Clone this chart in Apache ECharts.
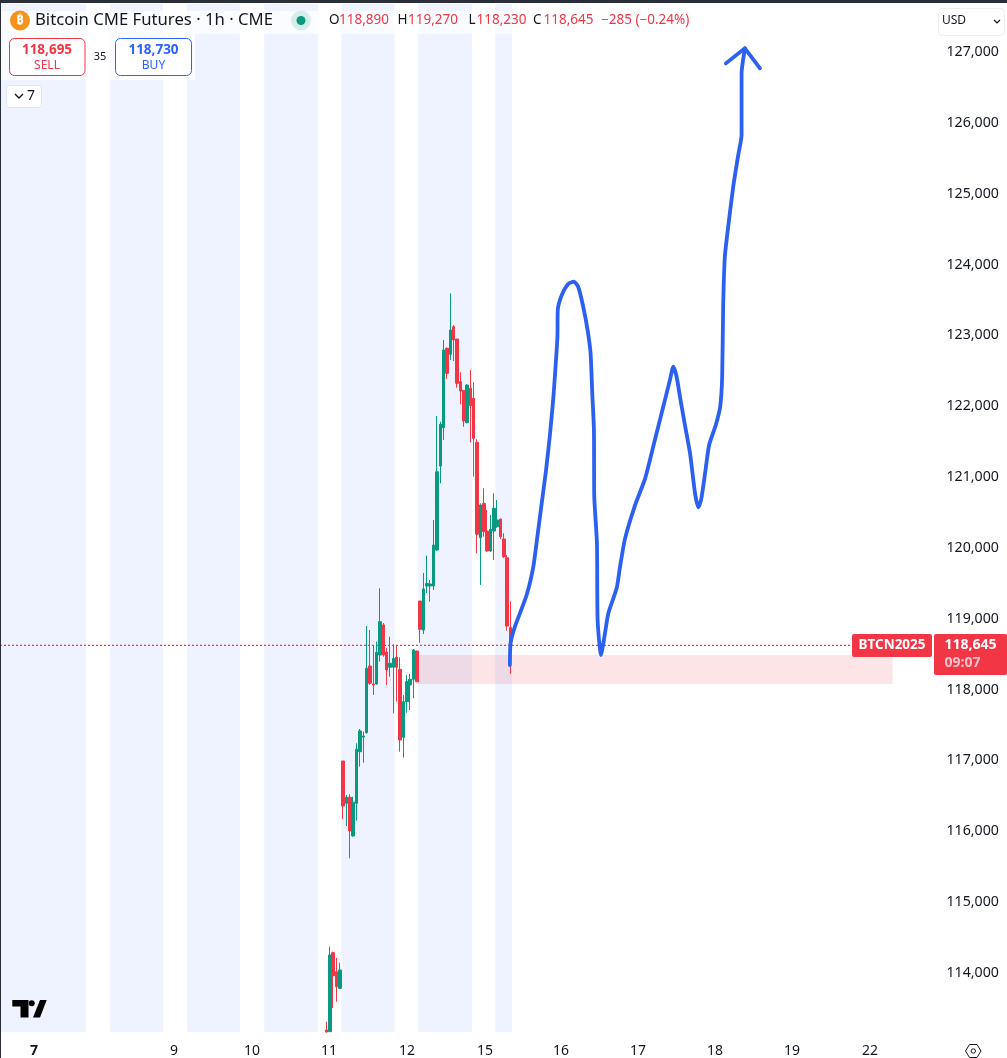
<!DOCTYPE html>
<html lang="en">

<head>
    <meta charset="UTF-8">
    <title>Bitcoin CME Futures</title>
    <style>
        html, body { margin: 0; padding: 0; background: #fff; }
    </style>
</head>

<body>
    <div id="chart-box" style="width:1007px; height:1058px"></div>

    <script src="https://cdn.jsdelivr.net/npm/echarts@6/dist/echarts.min.js"></script>

    <script>
        // hourly candles, one row per bar starting at firstBar
        const firstBar = 97;
        const barCount = 280;
        const opens = [113196, 113172, 114287, 114018, 113784, 116992, 116395, 116480, 115934, 116395, 117123, 117330, 117392, 118333, 118079, 118079, 118488, 118912, 118530, 118315, 118315, 118456, 118286, 117327, 117829, 118065, 118145, 118545, 119250, 118841, 119462, 119462, 119462, 119970, 121156, 121697, 122817, 122732, 123122, 122948, 122346, 122224, 121767, 122252, 122111, 121490, 120144, 120629, 120238, 119956, 120238, 120299, 120408, 120125, 119861, 118875];
        const closes = [113167, 114254, 113962, 113807, 114042, 116357, 116480, 116008, 116409, 117157, 117416, 117345, 118300, 118089, 118065, 118526, 118958, 118488, 118277, 118371, 118441, 118315, 117289, 117829, 118111, 118145, 118559, 118111, 118851, 119420, 119497, 119490, 120040, 121075, 121745, 122793, 122464, 123076, 122934, 122323, 122214, 121791, 122299, 122007, 121547, 120192, 120605, 120229, 119956, 120262, 120559, 120394, 120158, 119875, 118897, 118625];
        const highs = [113313, 114371, 114301, 114212, 114145, 116992, 116512, 116522, 116488, 117242, 117444, 117406, 118897, 118841, 118629, 118676, 119430, 118940, 118587, 118747, 118639, 118629, 118456, 117924, 118206, 118220, 118573, 118545, 119250, 119646, 119890, 119547, 120394, 121862, 121781, 122934, 122830, 123593, 123146, 122948, 122478, 122230, 122310, 122510, 122338, 121533, 120629, 120841, 120535, 120465, 120770, 120676, 120408, 120206, 119900, 119245];
        const lows = [113160, 113165, 113506, 113595, 113774, 116169, 116075, 115619, 115924, 116150, 116912, 116968, 117380, 118065, 117924, 118070, 118394, 118464, 118065, 118182, 117665, 117829, 117123, 117039, 117674, 117712, 117877, 118111, 118662, 118785, 119363, 119240, 119406, 119960, 120912, 121523, 122384, 122651, 122638, 122261, 122026, 121710, 121760, 121490, 121005, 119924, 119476, 120158, 119945, 119945, 119829, 120285, 120125, 119857, 118831, 118225];

        // price axis
        const priceMin = 113167;
        const priceMax = 127677;
        const priceTicks = [114000, 115000, 116000, 117000, 118000, 119000, 120000, 121000, 122000, 123000, 124000, 125000, 126000, 127000];
        const lastPrice = 118625;
        const lastPriceEndBar = 254.5;

        // time axis, positions in bars
        const dayNames = ['7', '9', '10', '11', '12', '15', '16', '17', '18', '19', '22'];
        const dayBars = [10.16, 51.97, 75.27, 98.27, 121.56, 144.86, 167.56, 190.56, 213.56, 236.56, 259.86];

        // session shading [from bar, to bar]
        const sessions = [[0, 25.7], [32.9, 48.7], [55.9, 71.7], [78.9, 95], [102, 117.8], [124.9, 141], [147.9, 152.9]];

        // demand zone [from bar, to bar, low price, high price]
        const zone = [[124.25, 266.6, 118079, 118488]];

        // hand drawn forecast
        const drawnBars = [152.3, 152.5, 153.8, 157.3, 159.3, 160.5, 161.8, 163.1, 164.3, 165.3, 166, 166.5, 166.6, 167.8, 169.7, 171.4, 172.7, 174.2, 175.5, 176.4, 176.9, 177.4, 177.5, 178.3, 178.5, 179.5, 180.7, 181.7, 184.2, 185.2, 186.7, 189.7, 192.7, 195.6, 198.1, 200.1, 201.1, 202.1, 203.1, 204.4, 206.1, 207.6, 208.6, 209.4, 210.6, 211.8, 213.8, 215.1, 215.7, 216, 216.5, 217.5, 219, 220.5, 221.5, 221.5, 222.5];
        const drawnPrices = [118347, 118653, 118888, 119335, 119735, 120158, 120629, 121099, 121617, 122134, 122605, 122981, 123358, 123569, 123725, 123757, 123686, 123404, 123075, 122746, 122182, 121664, 120723, 120065, 118982, 118488, 118794, 119077, 119434, 119735, 120135, 120605, 120982, 121523, 121993, 122370, 122557, 122416, 122134, 121781, 121335, 120770, 120573, 120676, 121053, 121452, 121734, 121993, 122416, 123404, 124110, 124533, 125098, 125545, 125828, 126698, 127051];
        const arrowBars = [216.8, 222.5, 227];
        const arrowPrices = [126839, 127051, 126769];

        // header texts
        const titleText = 'Bitcoin CME Futures · 1h · CME';
        const ohlcNames = ['O', 'H', 'L', 'C'];
        const ohlcValues = ['118,890', '119,270', '118,230', '118,645'];
        const changeText = '−285 (−0.24%)';

        const up = '#089981', down = '#F23645', blue = '#2962FF', ink = '#131722';
        const fontName = '"Noto Sans", sans-serif';

        const barNames = [];
        const candleData = [];
        for (let i = 0; i < barCount; i++) {
            barNames.push(String(i));
            const k = i - firstBar;
            candleData.push(k >= 0 && k < opens.length ? [opens[k], closes[k], lows[k], highs[k]] : ['-', '-', '-', '-']);
        }

        const txt = (text, x, y, fill, size, extra) => ({
            type: 'text', z: 101,
            style: Object.assign({
                text, x, y, fill,
                font: `${size}px ${fontName}`,
                align: 'left', verticalAlign: 'middle'
            }, extra || {})
        });
        const box = (x, y, w, h, fill, stroke, r) => ({
            type: 'rect', z: 100,
            shape: { x, y, width: w, height: h, r: r || 0 },
            style: { fill, stroke: stroke || 'none', lineWidth: 1 }
        });

        // fixed chrome of the trading view screen
        const chrome = [
            box(0, 11, 700, 23, 'rgba(255,255,255,0.75)'),
            box(0, 34, 195, 46, 'rgba(255,255,255,0.75)'),
            box(0, 0, 1007, 3, '#2a2e39'),
            box(0, 0, 1, 1058, '#2a2e39'),

            { type: 'circle', z: 101, shape: { cx: 20, cy: 20.5, r: 10 }, style: { fill: '#F7931A' } },
            txt('₿', 20, 20.5, '#fff', 13, { align: 'center', font: `bold 13px ${fontName}` }),
            txt(titleText, 35, 20.5, ink, 16.7),
            { type: 'circle', z: 101, shape: { cx: 301, cy: 20.5, r: 10 }, style: { fill: '#D6EEEA' } },
            { type: 'circle', z: 101, shape: { cx: 301, cy: 20.5, r: 4.5 }, style: { fill: up } },

            txt(ohlcNames[0], 329, 20.5, ink, 13.5),
            txt(ohlcValues[0], 339, 20.5, down, 13.5),
            txt(ohlcNames[1], 397.5, 20.5, ink, 13.5),
            txt(ohlcValues[1], 408, 20.5, down, 13.5),
            txt(ohlcNames[2], 468.5, 20.5, ink, 13.5),
            txt(ohlcValues[2], 476.5, 20.5, down, 13.5),
            txt(ohlcNames[3], 533, 20.5, ink, 13.5),
            txt(ohlcValues[3], 543.5, 20.5, down, 13.5),
            txt(changeText, 601, 20.5, down, 13.5),

            box(9.5, 38.5, 75.5, 37, '#fff', down, 5),
            txt('118,695', 47, 50, down, 13.5, { align: 'center', font: `bold 13.5px ${fontName}` }),
            txt('SELL', 47, 66, down, 12, { align: 'center' }),
            txt('35', 100, 57, ink, 11, { align: 'center' }),
            box(115.5, 38.5, 76, 37, '#fff', blue, 5),
            txt('118,730', 153.5, 50, blue, 13.5, { align: 'center', font: `bold 13.5px ${fontName}` }),
            txt('BUY', 153.5, 66, blue, 12, { align: 'center' }),

            box(6.5, 85.5, 35, 22, '#fff', '#e0e3eb', 3),
            { type: 'polyline', z: 101, shape: { points: [[15, 94], [19, 98], [23, 94]] }, style: { stroke: ink, fill: 'none', lineWidth: 1.4 } },
            txt('7', 27, 96, ink, 14),

            box(938.5, 8.5, 66, 27, '#fff', '#eceef2', 4),
            txt('USD', 942, 20.5, ink, 12),
            { type: 'polyline', z: 101, shape: { points: [[994, 20], [997, 23], [1000, 20]] }, style: { stroke: ink, fill: 'none', lineWidth: 1.2 } },

            box(852, 634, 80, 23, down, null, 2),
            txt('BTCN2025', 892, 645.5, '#fff', 14, { align: 'center', font: `bold 13.5px ${fontName}` }),
            box(934, 634, 73, 41, down, null, 2),
            txt('118,645', 944.5, 645.5, '#fff', 14.5, { font: `bold 14px ${fontName}` }),
            txt('09:07', 944.5, 663, 'rgba(255,255,255,0.7)', 14, { font: `bold 14px ${fontName}` }),

            // logo
            { type: 'polygon', z: 101, shape: { points: [[12.3, 1000], [28.5, 1000], [28.5, 1017.5], [20.5, 1017.5], [20.5, 1006.5], [12.3, 1006.5]] }, style: { fill: '#000' } },
            { type: 'circle', z: 101, shape: { cx: 31.7, cy: 1003.3, r: 3 }, style: { fill: '#000' } },
            { type: 'polygon', z: 101, shape: { points: [[40, 1000], [46.7, 1000], [40, 1017.5], [33, 1017.5]] }, style: { fill: '#000' } },

            // settings icon
            { type: 'polygon', z: 101, shape: { points: [[965.5, 1051], [969.5, 1044.5], [977, 1044.5], [981, 1051], [977, 1057.5], [969.5, 1057.5]] }, style: { fill: 'none', stroke: ink, lineWidth: 1 } },
            { type: 'circle', z: 101, shape: { cx: 973.3, cy: 1051, r: 2.2 }, style: { fill: 'none', stroke: ink, lineWidth: 1 } }
        ];

        const oChart = echarts.init(document.querySelector('#chart-box'), null, { renderer: 'canvas' });

        oChart.setOption({
            animation: false,
            backgroundColor: '#fff',
            grid: { left: 0, top: 4, width: barCount * 3.348, height: 1028, containLabel: false },
            xAxis: [{
                type: 'category',
                data: barNames,
                boundaryGap: true,
                axisLine: { show: false },
                axisTick: { show: false },
                axisLabel: { show: false },
                splitLine: { show: false }
            }, {
                type: 'value',
                position: 'bottom',
                min: 0,
                max: barCount,
                axisLine: { show: false },
                axisTick: { show: false },
                splitLine: { show: false },
                axisLabel: {
                    customValues: dayBars,
                    margin: 12,
                    color: ink,
                    fontFamily: 'Noto Sans',
                    fontSize: 14,
                    formatter: (v) => {
                        const name = dayNames[dayBars.indexOf(v)];
                        return name === '7' ? `{b|${name}}` : name;
                    },
                    rich: { b: { fontWeight: 'bold', fontSize: 14, fontFamily: 'Noto Sans', color: ink } }
                }
            }],
            yAxis: {
                type: 'value',
                position: 'right',
                min: priceMin,
                max: priceMax,
                scale: true,
                axisLine: { show: false },
                axisTick: { show: false },
                splitLine: { show: false },
                axisLabel: {
                    customValues: priceTicks,
                    margin: 9,
                    color: ink,
                    fontFamily: 'Noto Sans',
                    fontSize: 14.2,
                    padding: [3, 0, 0, 0],
                    formatter: (v) => v.toLocaleString('en-US')
                }
            },
            graphic: { elements: chrome },
            series: [{
                // session shading
                type: 'custom',
                name: 'sessions',
                xAxisIndex: 1,
                z: 1,
                silent: true,
                clip: true,
                data: sessions,
                encode: { x: [0, 1] },
                renderItem: (params, api) => {
                    const from = api.coord([api.value(0), priceMax]);
                    const to = api.coord([api.value(1), priceMin]);
                    return { type: 'rect', shape: { x: from[0], y: from[1], width: to[0] - from[0], height: to[1] - from[1] }, style: { fill: '#EEF3FF' } };
                }
            }, {
                // demand zone
                type: 'custom',
                name: 'zone',
                xAxisIndex: 1,
                z: 2,
                silent: true,
                data: zone,
                encode: { x: [0, 1], y: [2, 3] },
                renderItem: (params, api) => {
                    const from = api.coord([api.value(0), api.value(3)]);
                    const to = api.coord([api.value(1), api.value(2)]);
                    return { type: 'rect', shape: { x: from[0], y: from[1], width: to[0] - from[0], height: to[1] - from[1] }, style: { fill: 'rgba(242,54,69,0.13)' } };
                }
            }, {
                type: 'candlestick',
                name: 'BTCN2025',
                xAxisIndex: 0,
                z: 3,
                barWidth: 3,
                clip: true,
                data: candleData,
                itemStyle: { color: up, color0: down, borderColor: up, borderColor0: down, borderWidth: 1 }
            }, {
                // last price line
                type: 'line',
                name: 'last',
                xAxisIndex: 1,
                z: 3,
                symbol: 'none',
                silent: true,
                lineStyle: { color: '#F23645', type: [2, 2], width: 1.2, opacity: 1 },
                data: [[0, lastPrice], [lastPriceEndBar, lastPrice]]
            }, {
                type: 'line',
                name: 'forecast',
                xAxisIndex: 1,
                z: 4,
                smooth: 0.2,
                symbol: 'none',
                lineStyle: { color: '#2B60F0', width: 3.8, cap: 'round', join: 'round' },
                data: drawnBars.map((b, i) => [b, drawnPrices[i]])
            }, {
                type: 'line',
                name: 'arrow',
                xAxisIndex: 1,
                z: 4,
                symbol: 'none',
                lineStyle: { color: '#2B60F0', width: 3.8, cap: 'round', join: 'round' },
                data: arrowBars.map((b, i) => [b, arrowPrices[i]])
            }]
        });
    </script>
</body>

</html>
